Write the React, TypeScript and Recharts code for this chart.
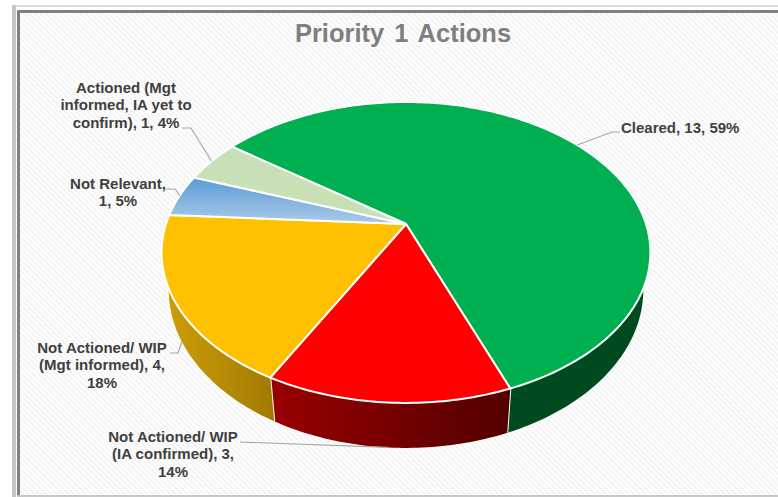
import { PieChart, Pie } from 'recharts';

const categories = [
  'Cleared',
  'Not Actioned/ WIP (IA confirmed)',
  'Not Actioned/ WIP (Mgt informed)',
  'Not Relevant',
  'Actioned (Mgt informed, IA yet to confirm)',
];
const counts = [13, 3, 4, 1, 1];
const shownPercents = [59, 14, 18, 5, 4];
const labelLines = [
  ['Cleared, 13, 59%'],
  ['Not Actioned/ WIP', '(IA confirmed), 3,', '14%'],
  ['Not Actioned/ WIP', '(Mgt informed), 4,', '18%'],
  ['Not Relevant,', '1, 5%'],
  ['Actioned (Mgt', 'informed, IA yet to', 'confirm), 1, 4%'],
];
const sliceColors = ['#00b050', '#ff0000', '#ffc000', 'url(#blueFace)', '#c8e0b6'];
const wallColors = ['#004a20', 'url(#redWall)', 'url(#amberWall)', 'none', 'none'];

const data = categories.map((name, i) => ({ name, count: counts[i], percent: shownPercents[i], lines: labelLines[i] }));

// where each label block sits and how its leader runs into the slice
const labelLayout = [
  { x: 621, y: 128, anchor: 'start', elbow: [[620, 132], [612, 132]] },
  { x: 173, y: 437, anchor: 'middle', elbow: [[240, 442]] },
  { x: 102, y: 348, anchor: 'middle', elbow: [[170, 353], [178, 353]] },
  { x: 118, y: 184, anchor: 'middle', elbow: [[166, 189], [175, 189]] },
  { x: 126, y: 88, anchor: 'middle', elbow: [[182, 128], [191, 128]] },
];

const CX = 406;
const CY = 224;
const RADIUS = 240;
const TILT = 0.189; // perspective foreshortening of the far side
const WALL_FROM = 100;
const WALL_TO = 262;

// recharts angle (ccw from east) to a projected point on the top or bottom rim
const project = (angle: number, level: 'top' | 'bottom') => {
  const t = (angle * Math.PI) / 180;
  const u = Math.cos(t);
  const v = Math.sin(t);
  const w = 1 + TILT * v;
  if (level === 'top') return [CX + (240 * u) / w, CY - (145.1 * v) / w];
  return [CX + (233 * u) / w, CY + 36 - (152.4 * v) / w];
};

const arcPoints = (from: number, to: number, level: 'top' | 'bottom') => {
  const steps = Math.max(2, Math.ceil(Math.abs(to - from)));
  const pts = [];
  for (let i = 0; i <= steps; i++) pts.push(project(from + ((to - from) * i) / steps, level));
  return pts;
};

const toPath = (pts: number[][]) => pts.map((p, i) => `${i ? 'L' : 'M'}${p[0].toFixed(2)},${p[1].toFixed(2)}`).join(' ');

const TopFace = (props: any) => {
  const { startAngle, endAngle, fill } = props;
  const d = `M${CX},${CY} ${toPath(arcPoints(startAngle, endAngle, 'top')).replace('M', 'L')} Z`;
  return <path d={d} fill={fill} stroke="#fff" strokeWidth={2} strokeLinejoin="round" />;
};

const Wall = (props: any) => {
  const { startAngle, endAngle, fill } = props;
  // clockwise degrees from north, clipped to the part of the rim facing the viewer
  const a = Math.max(90 - startAngle, WALL_FROM);
  const b = Math.min(90 - endAngle, WALL_TO);
  if (b <= a || fill === 'none') return <g />;
  const top = arcPoints(90 - a, 90 - b, 'top');
  const bottom = arcPoints(90 - b, 90 - a, 'bottom');
  const hasDivider = 90 - endAngle < WALL_TO;
  return (
    <g>
      <path d={`${toPath(top)} ${toPath(bottom).replace('M', 'L')} Z`} fill={fill} />
      {hasDivider && <path d={toPath([top[top.length - 1], bottom[0]])} stroke="#fff" strokeWidth={2} fill="none" />}
    </g>
  );
};

const renderLabel = (props: any) => {
  const { midAngle, index } = props;
  const layout = labelLayout[index];
  const wallSide = index === 1 || index === 2;
  const tip = project(midAngle, wallSide ? 'bottom' : 'top');
  return (
    <g>
      <path d={toPath([...layout.elbow, tip])} fill="none" stroke="#a6a6a6" strokeWidth={1.2} />
      <text
        x={layout.x}
        y={layout.y + 5}
        textAnchor={layout.anchor as any}
        fontFamily="'Liberation Sans', Arial, sans-serif"
        fontSize={15}
        fontWeight="bold"
        fill="#404040"
      >
        {data[index].lines.map((line, i) => (
          <tspan key={i} x={layout.x} dy={i ? 17.4 : 0}>
            {line}
          </tspan>
        ))}
      </text>
    </g>
  );
};

export default function App() {
  const faces = data.map((d, i) => ({ ...d, fill: sliceColors[i] }));
  const walls = data.map((d, i) => ({ ...d, fill: wallColors[i] }));
  return (
    <div style={{ position: 'absolute', left: 0, top: 0, width: 778, height: 497, overflow: 'hidden', background: '#fff' }}>
      <PieChart width={778} height={497} margin={{ top: 0, right: 0, bottom: 0, left: 0 }}>
        <defs>
          <pattern id="hatch" width="4" height="4" patternUnits="userSpaceOnUse" patternTransform="rotate(45)">
            <rect width="4" height="4" fill="#fefefe" />
            <rect width="4" height="2" fill="#f4f4f4" />
          </pattern>
          <linearGradient id="blueFace" x1="0" y1="0" x2="0" y2="1">
            <stop offset="0" stopColor="#5b9bd5" />
            <stop offset="1" stopColor="#abcbea" />
          </linearGradient>
          <linearGradient id="redWall" x1="0" y1="0" x2="1" y2="0">
            <stop offset="0" stopColor="#9a0000" />
            <stop offset="1" stopColor="#520000" />
          </linearGradient>
          <linearGradient id="amberWall" x1="0" y1="0" x2="1" y2="0">
            <stop offset="0" stopColor="#cf9f08" />
            <stop offset="1" stopColor="#a27a02" />
          </linearGradient>
        </defs>
        {/* chart frame: pale outer band, dark inner rule on top and left, pale rule along the bottom */}
        <rect x={18} y={11} width={760} height={484} fill="url(#hatch)" />
        <rect x={12} y={5} width={766} height={2} fill="#dedede" />
        <rect x={12} y={5} width={4} height={492} fill="#c4c4c4" />
        <rect x={17} y={10} width={761} height={3} fill="#808080" />
        <rect x={17} y={10} width={3} height={485} fill="#808080" />
        <rect x={17} y={495} width={761} height={2} fill="#c8c8c8" />
        <text
          x={403}
          y={42}
          textAnchor="middle"
          fontFamily="'Liberation Sans', Arial, sans-serif"
          fontSize={25.5}
          fontWeight="bold"
          fill="#7f7f7f"
          wordSpacing={3}
        >
          Priority 1 Actions
        </text>
        <Pie
          data={walls}
          dataKey="count"
          nameKey="name"
          cx={CX}
          cy={CY}
          outerRadius={RADIUS}
          startAngle={143.7}
          endAngle={-216.3}
          shape={Wall}
          label={false}
          labelLine={false}
          isAnimationActive={false}
        />
        <Pie
          data={faces}
          dataKey="count"
          nameKey="name"
          cx={CX}
          cy={CY}
          outerRadius={RADIUS}
          startAngle={143.7}
          endAngle={-216.3}
          shape={TopFace}
          label={renderLabel}
          labelLine={false}
          isAnimationActive={false}
        />
      </PieChart>
    </div>
  );
}
